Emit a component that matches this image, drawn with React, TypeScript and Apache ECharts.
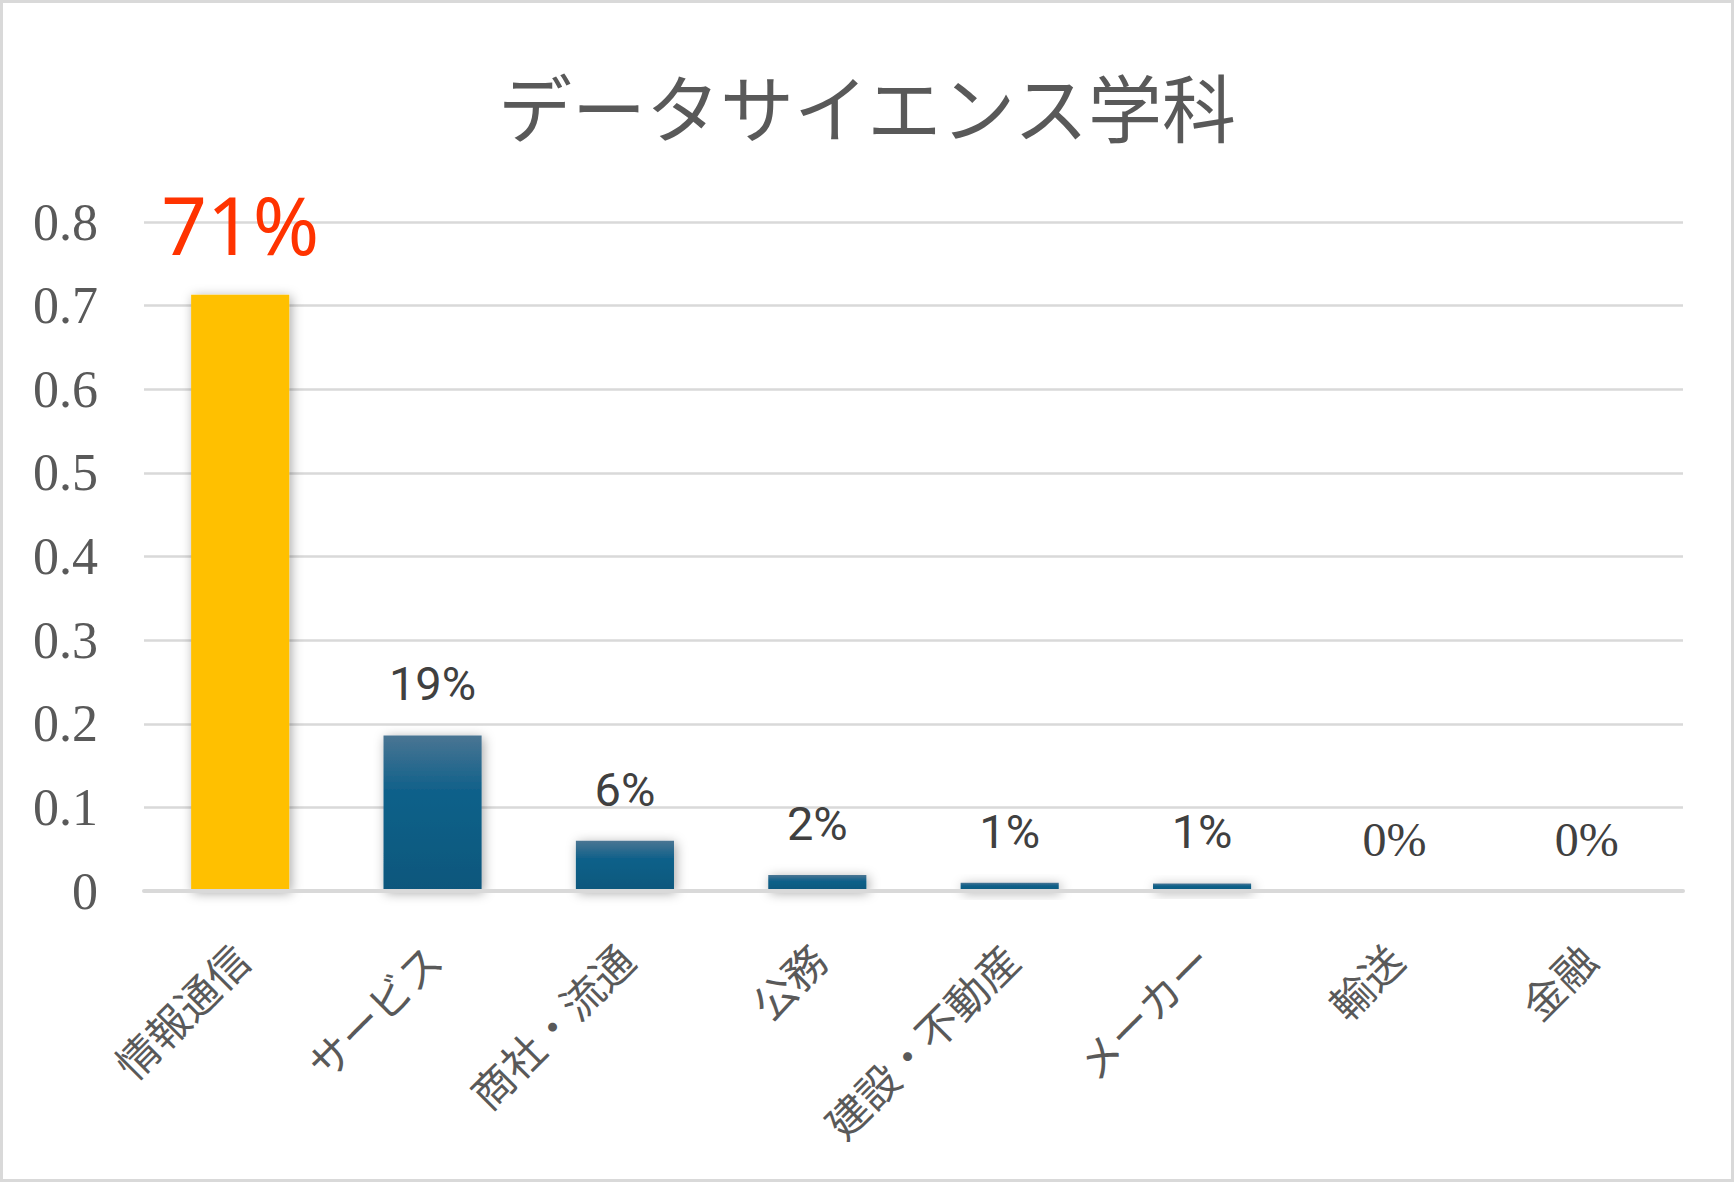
import React, { useEffect, useRef } from "react";
import * as echarts from "echarts";

const categories = ["情報通信", "サービス", "商社・流通", "公務", "建設・不動産", "メーカー", "輸送", "金融"];
const values = [0.713, 0.186, 0.06, 0.019, 0.01, 0.009, 0, 0];
const yTicks = [0, 0.1, 0.2, 0.3, 0.4, 0.5, 0.6, 0.7, 0.8];
const titleText = "データサイエンス学科";

const W = 1734;
const H = 1182;

export default function App() {
  const ref = useRef<HTMLDivElement>(null);
  useEffect(() => {
    if (!ref.current) return;
    const chart = echarts.init(ref.current, null, { renderer: "svg" });
    const blueGrad = new echarts.graphic.LinearGradient(0, 0, 0, 1, [
      { offset: 0, color: "#4a7593" },
      { offset: 0.35, color: "#11618a" },
      { offset: 1, color: "#0b577c" },
    ]);
    const data = values.map((v, i) =>
      i === 0
        ? {
            value: v,
            itemStyle: { color: "#FFC000" },
            label: {
              formatter: (p: any) => Math.round(p.value * 100) + "%",
              fontSize: 80,
              color: "#FF3300",
              fontFamily: "Noto Sans",
              distance: 31,
            },
          }
        : { value: v, itemStyle: { color: blueGrad } }
    );
    chart.setOption({
      animation: false,
      backgroundColor: "#ffffff",
      title: {
        text: titleText,
        left: "center",
        top: 62,
        textStyle: {
          fontFamily: "Noto Sans CJK JP",
          fontSize: 74,
          fontWeight: "normal",
          color: "#595959",
        },
      },
      graphic: [
        {
          type: "rect",
          shape: { x: 1.5, y: 1.5, width: W - 3, height: H - 3 },
          style: { fill: "none", stroke: "#d9d9d9", lineWidth: 3 },
          silent: true,
        },
      ],
      grid: { left: 144, right: 51, top: 222, bottom: 291 },
      xAxis: {
        type: "category",
        data: categories,
        z: 3,
        axisLine: { lineStyle: { color: "#d9d9d9", width: 4 } },
        axisTick: { show: false },
        axisLabel: {
          rotate: 45,
          margin: 60,
          interval: 0,
          fontFamily: "Noto Sans CJK JP",
          fontSize: 42,
          color: "#595959",
        },
      },
      yAxis: {
        type: "value",
        min: 0,
        max: yTicks[yTicks.length - 1],
        interval: 0.1,
        axisLine: { show: false },
        axisTick: { show: false },
        splitLine: { lineStyle: { color: "#d9d9d9", width: 2.5 } },
        axisLabel: {
          margin: 46,
          fontFamily: "Liberation Serif",
          fontSize: 52,
          color: "#595959",
          formatter: (v: number) => (v === 0 ? "0" : String(Math.round(v * 10) / 10)),
        },
      },
      series: [
        {
          type: "bar",
          data,
          barWidth: "51%",
          itemStyle: {
            shadowBlur: 12,
            shadowColor: "rgba(0,0,0,0.35)",
            shadowOffsetX: 2,
            shadowOffsetY: 2,
          },
          label: {
            show: true,
            position: "top",
            distance: 28,
            color: "#404040",
            formatter: (p: any) => {
              const pct = Math.round(p.value * 100);
              return pct === 0 ? "{s|" + pct + "%}" : "{n|" + pct + "%}";
            },
            rich: {
              n: { fontFamily: "Roboto", fontSize: 47, color: "#404040" },
              s: { fontFamily: "Liberation Serif", fontSize: 48, color: "#404040" },
            },
          },
        },
      ],
    });
    return () => chart.dispose();
  }, []);
  return (
    <div
      ref={ref}
      style={{ position: "fixed", left: 0, top: 0, width: W, height: H, background: "#fff" }}
    />
  );
}
